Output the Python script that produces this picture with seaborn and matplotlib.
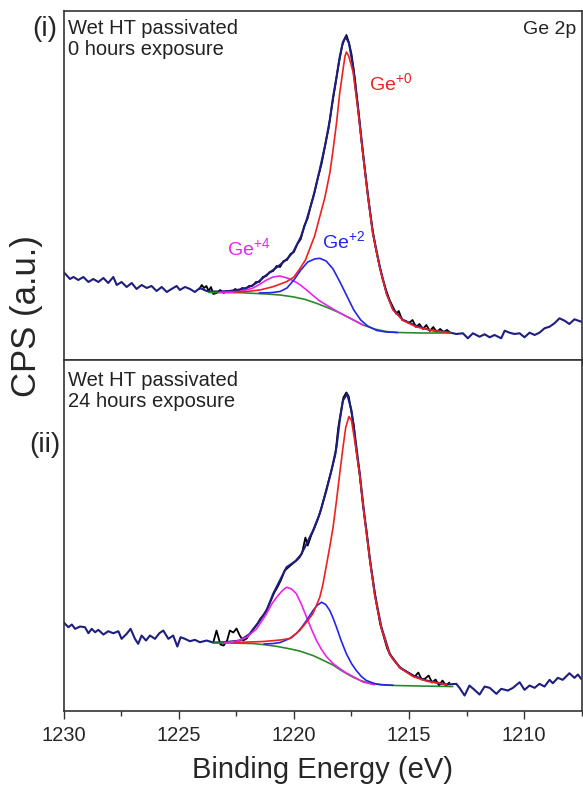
import numpy as np
import matplotlib
matplotlib.use('Agg')
import matplotlib.pyplot as plt
from matplotlib.ticker import MultipleLocator
import seaborn as sns

# ---- top panel (i): 0 hours exposure ----
# full spectrum (navy): noise left, envelope in fit window, noise right
top_navy_e = [1230.0, 1229.72, 1229.57, 1229.36, 1229.14, 1228.92, 1228.71, 1228.49, 1228.27, 1228.06,
              1227.84, 1227.69, 1227.48, 1227.26, 1227.04, 1226.83, 1226.61, 1226.39, 1226.18, 1225.96,
              1225.74, 1225.52, 1225.31, 1225.09, 1224.95, 1224.73, 1224.51, 1224.30, 1224.08, 1223.79,
              1223.6, 1223.2, 1222.8, 1222.35, 1222.0, 1221.77, 1221.5, 1221.19, 1220.9, 1220.61,
              1220.3, 1220.03, 1219.7, 1219.45, 1219.17, 1218.88, 1218.66, 1218.44, 1218.3, 1218.15,
              1218.01, 1217.87, 1217.75, 1217.61, 1217.43, 1217.22, 1217.0, 1216.78, 1216.57, 1216.27,
              1215.98, 1215.7, 1215.26, 1214.68, 1214.1, 1213.6, 1213.24,
              1212.95, 1212.66, 1212.45, 1212.23, 1211.94, 1211.72, 1211.5, 1211.29, 1211.0, 1210.85,
              1210.64, 1210.42, 1210.2, 1209.99, 1209.77, 1209.55, 1209.34, 1209.12, 1208.9, 1208.69,
              1208.47, 1208.25, 1208.04, 1207.82, 1207.53]
top_navy_v = [88, 81, 83, 80, 83, 78, 81, 78, 82, 77,
              83, 75, 78, 73, 77, 71, 75, 72, 74, 69,
              73, 68, 71, 74, 70, 73, 71, 68, 72, 69,
              68.5, 68.5, 69, 70.5, 72.5, 75, 79, 85, 90, 95,
              101, 108, 123, 140, 162, 190, 213, 240, 263, 283,
              303, 318, 323, 317, 293, 253, 207, 163, 127, 93,
              67, 51, 40, 34, 30, 28.5, 27.5,
              26, 26.7, 21.7, 26.7, 23.3, 25.7, 22.7, 25, 21.7, 29.3,
              27.3, 26, 26.7, 22.7, 27.3, 25, 27.3, 31.7, 33.3, 36.7,
              41.7, 39.3, 36, 40.7, 38.3]

# measured data inside the fit window (black)
top_data_e = [1224.1, 1224.0, 1223.9, 1223.8, 1223.7, 1223.6, 1223.5, 1223.35, 1223.2, 1223.05,
              1222.9, 1222.7, 1222.55, 1222.4, 1222.25, 1222.1, 1221.95, 1221.8, 1221.65, 1221.5,
              1221.35, 1221.2, 1221.05, 1220.9, 1220.75, 1220.6, 1220.45, 1220.3, 1220.15, 1220.0,
              1219.85, 1219.7, 1219.55, 1219.4, 1219.25, 1219.1, 1218.95, 1218.8, 1218.65, 1218.5,
              1218.35, 1218.2, 1218.05, 1217.9, 1217.8, 1217.72, 1217.62, 1217.5, 1217.35, 1217.2,
              1217.05, 1216.9, 1216.75, 1216.6, 1216.45, 1216.3, 1216.15, 1216.0, 1215.85, 1215.7,
              1215.55, 1215.45, 1215.3, 1215.15, 1215.0, 1214.85, 1214.7, 1214.55, 1214.4, 1214.25,
              1214.1, 1213.95, 1213.8, 1213.65, 1213.5, 1213.35, 1213.2]
top_data_v = [71, 75, 72, 74, 69, 73, 66, 67, 70, 67,
              69, 68, 71, 69, 72, 71, 74, 74, 78, 78,
              83, 84, 88, 89, 94, 93, 99, 100, 106, 108,
              116, 121, 134, 142, 156, 168, 183, 196, 214, 231,
              254, 275, 297, 315, 321, 325, 318, 306, 281, 249,
              216, 186, 158, 132, 112, 96, 81, 70, 60, 53,
              46, 49, 40, 39, 37, 40, 33, 36, 31, 35,
              29, 33, 28, 31, 28, 30, 27]

top_ge0_e = [1222.6, 1222.05, 1221.48, 1220.9, 1220.32, 1220.0, 1219.75, 1219.5, 1219.3, 1219.1,
             1218.95, 1218.8, 1218.66, 1218.44, 1218.3, 1218.15, 1218.01, 1217.87, 1217.78, 1217.72,
             1217.62, 1217.43, 1217.22, 1217.0, 1216.78, 1216.57, 1216.27, 1215.98, 1215.7, 1215.26,
             1214.68, 1213.96, 1213.24]
top_ge0_v = [68, 68.5, 70, 73.3, 78.3, 83, 91, 100, 112, 124,
             137, 150, 162, 187, 210, 237, 267, 290, 304, 308,
             304, 288, 250, 205, 162, 126, 92, 66, 50, 39.5,
             33, 29.5, 27.3]

top_ge2_e = [1221.5, 1221.0, 1220.6, 1220.3, 1220.0, 1219.7, 1219.4, 1219.1, 1218.88, 1218.6,
             1218.3, 1218.0, 1217.7, 1217.4, 1217.1, 1216.8, 1216.4, 1216.0, 1215.5]
top_ge2_v = [67, 67.3, 68.5, 72, 80, 90, 98, 101, 101.7, 99,
             91, 78, 64, 50, 40, 34, 29.5, 28, 27.5]

top_ge4_e = [1223.2, 1222.8, 1222.35, 1222.0, 1221.77, 1221.5, 1221.19, 1220.9, 1220.61, 1220.3,
             1220.0, 1219.75, 1219.45, 1219.17, 1218.88, 1218.59, 1218.3, 1218.0, 1217.5, 1217.0]
top_ge4_v = [67.6, 67.8, 68.5, 70.5, 72, 75.5, 80, 83, 84, 82,
             79, 75.5, 70, 64.5, 59, 55, 51, 47, 41, 35]

top_bg_e = [1223.7, 1222.3, 1221.2, 1220.6, 1220.0, 1219.5, 1219.0, 1218.5, 1218.0, 1217.5,
            1217.0, 1216.5, 1216.0, 1215.5, 1214.5, 1213.2]
top_bg_v = [67.5, 67.3, 66, 65, 63, 60.5, 56.5, 52, 47, 41,
            35, 31, 28.5, 27.5, 27, 27]

# ---- bottom panel (ii): 24 hours exposure ----
bot_navy_e = [1230.0, 1229.79, 1229.64, 1229.50, 1229.28, 1229.07, 1228.92, 1228.78, 1228.63, 1228.49,
              1228.27, 1228.06, 1227.84, 1227.62, 1227.48, 1227.26, 1227.09, 1226.90, 1226.76, 1226.61,
              1226.42, 1226.25, 1226.03, 1225.84, 1225.67, 1225.45, 1225.24, 1225.06, 1224.92, 1224.73,
              1224.51, 1224.30, 1224.08, 1223.79,
              1223.5, 1223.0, 1222.35, 1221.91, 1221.48, 1221.19, 1220.9, 1220.61, 1220.32, 1219.89,
              1219.75, 1219.45, 1219.17, 1218.88, 1218.59, 1218.37, 1218.15, 1218.01, 1217.87, 1217.69,
              1217.5, 1217.36, 1217.14, 1216.93, 1216.71, 1216.49, 1216.2, 1215.84, 1215.41, 1214.83,
              1214.25, 1213.38,
              1212.95, 1212.81, 1212.59, 1212.38, 1212.16, 1211.94, 1211.72, 1211.50, 1211.21, 1211.0,
              1210.71, 1210.49, 1210.20, 1209.99, 1209.77, 1209.55, 1209.34, 1209.12, 1208.90, 1208.76,
              1208.54, 1208.33, 1208.04, 1207.82, 1207.67, 1207.53]
bot_navy_v = [88.3, 83.3, 86, 81.7, 84, 83.3, 77.3, 81.7, 78.3, 80.7,
              76, 79.3, 77.3, 79.3, 71.7, 76.7, 81.7, 71.7, 66.7, 75,
              70, 75, 71.7, 77.3, 80, 71.7, 75, 64, 73.3, 71.7,
              69.3, 70.7, 68.3, 70,
              68, 68.3, 70, 76.7, 90, 100, 116.7, 130, 143.3, 150,
              153.3, 166.7, 180, 196.7, 220, 240, 263.3, 290, 310, 316.7,
              300, 276.7, 236.7, 193.3, 153.3, 116.7, 83.3, 56.7, 43.3, 35,
              30, 26,
              26.7, 22.7, 15, 25, 20.7, 16, 24, 22.7, 16.7, 21.7,
              20, 22.7, 28.3, 20.7, 25, 22.7, 26.7, 24, 30.7, 27.3,
              32.7, 30.7, 37.3, 32.7, 36, 31.7]

bot_data_e = [1223.5, 1223.36, 1223.19, 1223.05, 1222.9, 1222.78, 1222.63, 1222.49, 1222.35, 1222.2,
              1222.05, 1221.9, 1221.75, 1221.6, 1221.45, 1221.3, 1221.15, 1221.0, 1220.85, 1220.7,
              1220.55, 1220.4, 1220.25, 1220.1, 1219.95, 1219.8, 1219.65, 1219.5, 1219.4, 1219.25,
              1219.1, 1218.95, 1218.8, 1218.65, 1218.5, 1218.35, 1218.2, 1218.08, 1217.95, 1217.85,
              1217.72, 1217.62, 1217.5, 1217.4, 1217.3, 1217.15, 1217.0, 1216.85, 1216.7, 1216.55,
              1216.4, 1216.25, 1216.1, 1215.95, 1215.8, 1215.65, 1215.5, 1215.35, 1215.2, 1215.05,
              1214.9, 1214.75, 1214.6, 1214.45, 1214.3, 1214.15, 1214.0, 1213.85, 1213.7, 1213.55,
              1213.4, 1213.25]
bot_data_v = [68, 80, 66, 65, 70, 80, 78, 82, 75, 70,
              72, 77, 82, 86, 92, 96, 102, 110, 118, 124,
              131, 140, 143, 146, 149, 153, 157, 173, 165, 175,
              183, 192, 203, 216, 229, 242, 256, 282, 300, 313,
              318, 314, 298, 285, 262, 237, 205, 180, 150, 127,
              105, 86, 74, 62, 55, 50, 46, 42, 40, 38,
              36, 34, 38, 31, 32, 35, 28, 31, 25, 30,
              25, 28]

bot_ge0_e = [1222.6, 1221.34, 1220.6, 1220.18, 1219.75, 1219.5, 1219.17, 1218.88, 1218.75, 1218.59,
             1218.44, 1218.3, 1218.15, 1218.01, 1217.87, 1217.75, 1217.61, 1217.5, 1217.36, 1217.14,
             1216.93, 1216.71, 1216.49, 1216.2, 1215.84, 1215.41, 1214.83, 1214.25, 1213.38]
bot_ge0_v = [68, 69, 70.5, 72, 80, 87, 97, 113, 125, 145,
             164, 183, 210, 237, 263, 283, 294, 290, 270, 235,
             192, 152, 115, 82, 56, 43, 34, 29.5, 26]

bot_ge2_e = [1221.3, 1220.9, 1220.6, 1220.32, 1220.1, 1219.89, 1219.67, 1219.45, 1219.17, 1219.0,
             1218.8, 1218.62, 1218.44, 1218.3, 1218.15, 1217.95, 1217.72, 1217.5, 1217.29, 1217.07,
             1216.85, 1216.5, 1216.27, 1215.7]
bot_ge2_v = [66.5, 67, 68, 70.7, 73, 77, 83, 90, 100, 105,
             108.3, 106, 100, 92.5, 83.3, 70, 56.7, 47, 40, 34,
             30, 27, 26, 25.2]

bot_ge4_e = [1223.0, 1222.49, 1222.05, 1221.62, 1221.19, 1220.95, 1220.75, 1220.5, 1220.32, 1220.1,
             1219.89, 1219.67, 1219.45, 1219.23, 1219.02, 1218.8, 1218.59, 1218.3, 1218.01, 1217.72,
             1217.43, 1217.0, 1216.5]
bot_ge4_v = [67.8, 69.3, 73.3, 81.7, 96.7, 107, 113.3, 120, 123.3, 121.5,
             116.7, 106, 93.3, 81, 70, 61, 54, 47, 42, 37.5,
             34, 28.5, 25.8]

bot_bg_e = [1223.5, 1222.78, 1221.8, 1221.34, 1220.7, 1220.18, 1219.75, 1219.17, 1218.8, 1218.3,
            1218.01, 1217.72, 1217.43, 1217.1, 1216.71, 1216.2, 1215.55, 1214.5, 1213.1]
bot_bg_v = [67.5, 67.5, 67, 66, 64, 61.7, 59.5, 55, 51, 45.5,
            41, 37, 33.3, 30, 27.3, 25.8, 25, 24.5, 24]

x_major = [1230, 1225, 1220, 1215, 1210]

NAVY = '#1e1e80'
RED = '#ee2020'
BLUE = '#2424ee'
PINK = '#ee22ee'
GREEN = '#2a8a2a'

sns.set_style('ticks')
plt.rcParams['font.family'] = ['Liberation Sans', 'DejaVu Sans']
plt.rcParams['mathtext.fontset'] = 'custom'
plt.rcParams['mathtext.rm'] = 'Liberation Sans'
plt.rcParams['mathtext.it'] = 'Liberation Sans:italic'
plt.rcParams['mathtext.default'] = 'regular'

fig = plt.figure(figsize=(5.83, 7.86), dpi=100)
ax1 = fig.add_axes([0.109, 0.5420, 0.889, 0.4440])
ax2 = fig.add_axes([0.109, 0.0960, 0.889, 0.4460], sharex=ax1)


def curve(ax, e, v, color, lw=1.2):
    sns.lineplot(x=e, y=v, ax=ax, color=color, lw=lw, sort=False, estimator=None)


panels = [
    (ax1, top_data_e, top_data_v, top_navy_e, top_navy_v, top_bg_e, top_bg_v,
     top_ge4_e, top_ge4_v, top_ge2_e, top_ge2_v, top_ge0_e, top_ge0_v),
    (ax2, bot_data_e, bot_data_v, bot_navy_e, bot_navy_v, bot_bg_e, bot_bg_v,
     bot_ge4_e, bot_ge4_v, bot_ge2_e, bot_ge2_v, bot_ge0_e, bot_ge0_v),
]
for ax, de, dv, ne, nv, be, bv, e4, v4, e2, v2, e0, v0 in panels:
    curve(ax, de, dv, 'black', 1.3)
    curve(ax, ne, nv, NAVY, 1.5)
    curve(ax, be, bv, GREEN)
    curve(ax, e4, v4, PINK)
    curve(ax, e2, v2, BLUE)
    curve(ax, e0, v0, RED)
    ax.set_xlim(1230, 1207.5)
    ax.set_xticks(x_major)
    ax.xaxis.set_minor_locator(MultipleLocator(2.5))
    ax.set_yticks([])
    ax.set_xlabel('')
    ax.set_ylabel('')
    for s in ax.spines.values():
        s.set_visible(True)
        s.set_linewidth(1.2)
        s.set_color('#333333')
    ax.tick_params(axis='x', which='major', direction='out', length=6, width=1.0,
                   color='#333333', labelsize=14.5, pad=5)
    ax.tick_params(axis='x', which='minor', direction='out', length=3.5, width=1.0,
                   color='#333333')

ax1.set_ylim(0, 349)
ax2.set_ylim(0, 350.5)
ax1.tick_params(labelbottom=False)

ax2.set_xlabel('Binding Energy (eV)', fontsize=21, labelpad=8)
fig.text(0.046, 0.598, 'CPS (a.u.)', rotation=90, fontsize=25, ha='center', va='center')

fig.text(0.098, 0.963, '(i)', fontsize=20, ha='right', va='center')
fig.text(0.103, 0.434, '(ii)', fontsize=20, ha='right', va='center')

ax1.text(0.009, 0.978, 'Wet HT passivated\n0 hours exposure', transform=ax1.transAxes,
         fontsize=14.5, ha='left', va='top', color='#222222', linespacing=1.15)
ax2.text(0.009, 0.968, 'Wet HT passivated\n24 hours exposure', transform=ax2.transAxes,
         fontsize=14.5, ha='left', va='top', color='#222222', linespacing=1.15)
ax1.text(0.990, 0.970, 'Ge 2p', transform=ax1.transAxes, fontsize=14, ha='right', va='top',
         color='#222222')

ax1.text(1216.75, 270, 'Ge$^{+0}$', color=RED, fontsize=14, ha='left', va='baseline')
ax1.text(1222.92, 105, 'Ge$^{+4}$', color=PINK, fontsize=14, ha='left', va='baseline')
ax1.text(1218.8, 112, 'Ge$^{+2}$', color=BLUE, fontsize=14, ha='left', va='baseline')

fig.savefig('out.png', dpi=100)
